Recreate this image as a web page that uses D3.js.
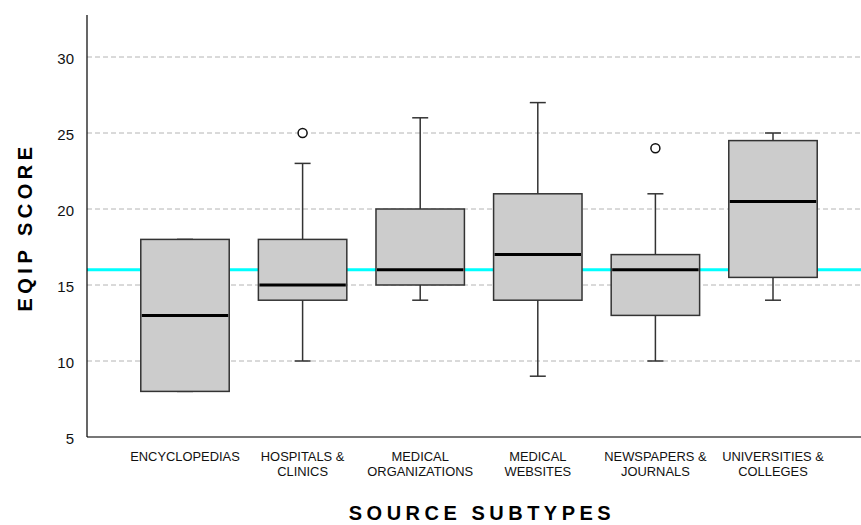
<!DOCTYPE html>
<html>
<head>
<meta charset="utf-8">
<script src="https://cdn.jsdelivr.net/npm/d3@7"></script>
<style>
  body { margin: 0; background: #fff; }
  text { font-family: "Liberation Sans", Arial, sans-serif; }
</style>
</head>
<body>
<script>
// data
const categories = ["ENCYCLOPEDIAS", "HOSPITALS & CLINICS", "MEDICAL ORGANIZATIONS", "MEDICAL WEBSITES", "NEWSPAPERS & JOURNALS", "UNIVERSITIES & COLLEGES"];
const labelLines = [["ENCYCLOPEDIAS"], ["HOSPITALS &", "CLINICS"], ["MEDICAL", "ORGANIZATIONS"], ["MEDICAL", "WEBSITES"], ["NEWSPAPERS &", "JOURNALS"], ["UNIVERSITIES &", "COLLEGES"]];
const whiskerLow = [8, 10, 14, 9, 10, 14];
const q1 = [8, 14, 15, 14, 13, 15.5];
const medians = [13, 15, 16, 17, 16, 20.5];
const q3 = [18, 18, 20, 21, 17, 24.5];
const whiskerHigh = [18, 23, 26, 27, 21, 25];
const outliers = [[], [25], [], [], [24], []];
const yTicks = [5, 10, 15, 20, 25, 30];
const gridTicks = [10, 15, 20, 25, 30];
const refValue = 16;

const W = 861, H = 525;
const plotLeft = 87, plotRight = 861, plotTop = 15, plotBottom = 437;

const svg = d3.select("body").append("svg")
  .attr("width", W)
  .attr("height", H);

const y = d3.scaleLinear()
  .domain([5, 30])
  .range([plotBottom, 57]);

const x = d3.scalePoint()
  .domain(categories)
  .range([185, 773]);

const boxW = x.step() * 0.752;

// grid
svg.append("g")
  .selectAll("line")
  .data(gridTicks)
  .enter().append("line")
  .attr("x1", plotLeft)
  .attr("x2", plotRight)
  .attr("y1", d => y(d))
  .attr("y2", d => y(d))
  .attr("stroke", "#b4b4b4")
  .attr("stroke-width", 1)
  .attr("stroke-dasharray", "5,3");

// reference line
svg.append("line")
  .attr("x1", plotLeft)
  .attr("x2", plotRight)
  .attr("y1", y(refValue))
  .attr("y2", y(refValue))
  .attr("stroke", "#00ffff")
  .attr("stroke-width", 3);

const boxes = categories.map((c, i) => ({
  cat: c, lo: whiskerLow[i], q1: q1[i], med: medians[i], q3: q3[i], hi: whiskerHigh[i], out: outliers[i]
}));

const g = svg.append("g")
  .selectAll("g")
  .data(boxes)
  .enter().append("g")
  .attr("transform", d => "translate(" + x(d.cat) + ",0)");

// whiskers
g.append("line")
  .attr("x1", 0).attr("x2", 0)
  .attr("y1", d => y(d.hi))
  .attr("y2", d => y(d.q3))
  .attr("stroke", "#333").attr("stroke-width", 1.5);
g.append("line")
  .attr("x1", 0).attr("x2", 0)
  .attr("y1", d => y(d.q1))
  .attr("y2", d => y(d.lo))
  .attr("stroke", "#333").attr("stroke-width", 1.5);
g.append("line")
  .attr("x1", -8).attr("x2", 8)
  .attr("y1", d => y(d.hi)).attr("y2", d => y(d.hi))
  .attr("stroke", "#333").attr("stroke-width", 1.5);
g.append("line")
  .attr("x1", -8).attr("x2", 8)
  .attr("y1", d => y(d.lo)).attr("y2", d => y(d.lo))
  .attr("stroke", "#333").attr("stroke-width", 1.5);

// box
g.append("rect")
  .attr("x", -boxW / 2)
  .attr("width", boxW)
  .attr("y", d => y(d.q3))
  .attr("height", d => y(d.q1) - y(d.q3))
  .attr("fill", "#cccccc")
  .attr("stroke", "#333")
  .attr("stroke-width", 1.5);

// median
g.append("line")
  .attr("x1", -boxW / 2 + 1).attr("x2", boxW / 2 - 1)
  .attr("y1", d => y(d.med)).attr("y2", d => y(d.med))
  .attr("stroke", "#000").attr("stroke-width", 3);

// outliers
g.selectAll("circle")
  .data(d => d.out)
  .enter().append("circle")
  .attr("cx", 0)
  .attr("cy", d => y(d))
  .attr("r", 4.5)
  .attr("fill", "#fff")
  .attr("stroke", "#111")
  .attr("stroke-width", 1.5);

// axes
svg.append("line")
  .attr("x1", plotLeft).attr("x2", plotRight)
  .attr("y1", plotBottom).attr("y2", plotBottom)
  .attr("stroke", "#777").attr("stroke-width", 2);
svg.append("line")
  .attr("x1", plotLeft).attr("x2", plotLeft)
  .attr("y1", plotTop).attr("y2", plotBottom)
  .attr("stroke", "#000").attr("stroke-width", 1.2);

const yAxis = svg.append("g")
  .attr("transform", "translate(" + plotLeft + ",0)")
  .call(d3.axisLeft(y).tickValues(yTicks).tickSize(0).tickPadding(13));
yAxis.select(".domain").remove();
yAxis.selectAll("text")
  .attr("font-size", 15)
  .attr("fill", "#111")
  .attr("dy", "0.45em")
  .style("font-family", "'Liberation Sans', Arial, sans-serif");

// x tick labels
const xl = svg.append("g")
  .selectAll("text")
  .data(categories)
  .enter().append("text")
  .attr("x", d => x(d))
  .attr("y", 461)
  .attr("text-anchor", "middle")
  .attr("font-size", 12.9)
  .attr("fill", "#111");
xl.selectAll("tspan")
  .data((d, i) => labelLines[i])
  .enter().append("tspan")
  .attr("x", function() { return d3.select(this.parentNode).attr("x"); })
  .attr("dy", (d, j) => j === 0 ? 0 : 15)
  .text(d => d);

// axis titles
svg.append("text")
  .attr("x", 482)
  .attr("y", 520)
  .attr("text-anchor", "middle")
  .attr("font-size", 20)
  .attr("font-weight", "bold")
  .attr("letter-spacing", 4.5)
  .attr("fill", "#000")
  .text("SOURCE SUBTYPES");

svg.append("text")
  .attr("transform", "translate(32,227) rotate(-90)")
  .attr("text-anchor", "middle")
  .attr("font-size", 20)
  .attr("font-weight", "bold")
  .attr("letter-spacing", 4.5)
  .attr("fill", "#000")
  .text("EQIP SCORE");
</script>
</body>
</html>
